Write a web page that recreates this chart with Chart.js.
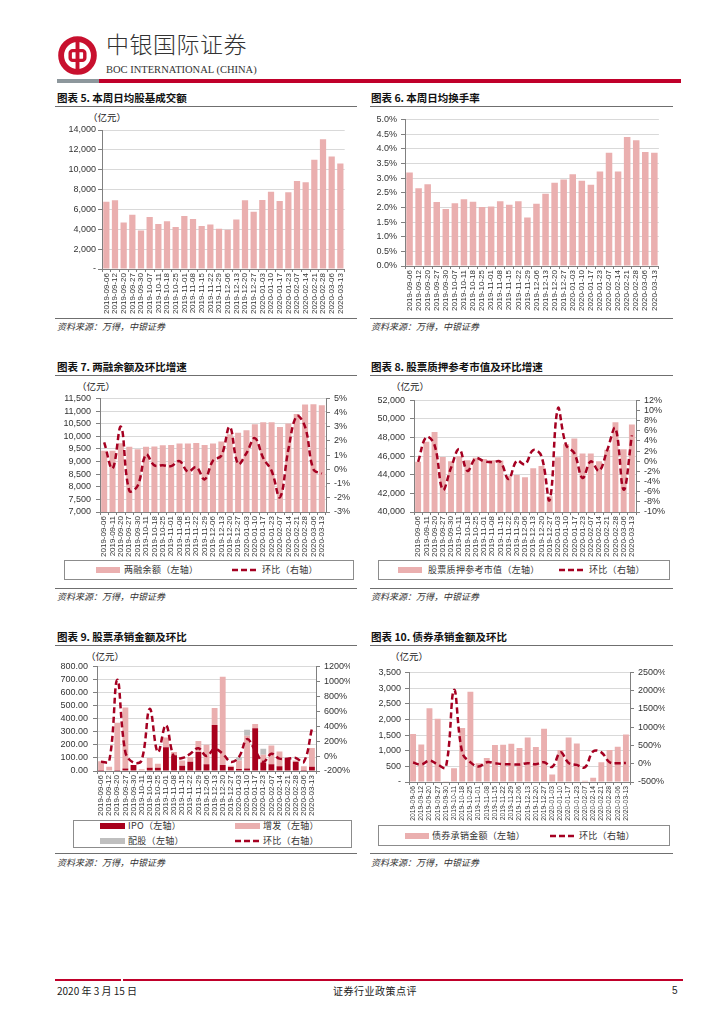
<!DOCTYPE html>
<html>
<head>
<meta charset="utf-8">
<script src="https://cdn.jsdelivr.net/npm/chart.js@4.4.1/dist/chart.umd.min.js"></script>
<style>
body { margin: 0; width: 724px; height: 1024px; background: #fff; position: relative; overflow: hidden;
       font-family: 'Noto Sans CJK SC', sans-serif; color: #111; }
.a { position: absolute; white-space: nowrap; }
.title { font-size: 10.5px; font-weight: bold; line-height: 12px; color: #111; }
.rule { position: absolute; height: 1px; background: #6f6f6f; }
.src { font-size: 9px; font-style: italic; line-height: 11px; color: #333; }
.unit { font-size: 9.5px; line-height: 11px; color: #222; }
.box { position: absolute; border: 1px solid #8c8c8c; box-sizing: border-box; }
.leg { position: absolute; font-size: 9px; line-height: 11px; color: #333; white-space: nowrap; letter-spacing: 0.3px; }
.sw { position: absolute; height: 6px; }
.cw { position: absolute; }
</style>
</head>
<body>

<!-- header -->
<svg class="a" style="left:58px;top:36px" width="39" height="39" viewBox="0 0 40 40">
  <circle cx="20" cy="20" r="16.8" fill="none" stroke="#c8102e" stroke-width="6"/>
  <rect x="12.5" y="15" width="15" height="10" rx="2.5" fill="none" stroke="#c8102e" stroke-width="3.5"/>
  <rect x="18" y="4" width="4" height="32" fill="#c8102e"/>
</svg>
<div class="a" style="left:106px;top:28px;font-size:23px;line-height:30px;font-weight:300;color:#333;letter-spacing:0.5px">中银国际证券</div>
<div class="a" style="left:106px;top:64px;font-family:'Liberation Serif',serif;font-size:10.5px;line-height:12px;color:#333">BOC INTERNATIONAL (CHINA)</div>
<div class="a" style="left:57px;top:79px;width:42px;height:4px;background:#8d979c"></div>
<div class="a" style="left:99px;top:79px;width:582px;height:4px;background:#c0002a"></div>

<!-- titles and rules -->
<div class="a title" style="left:57px;top:92px">图表 5. 本周日均股基成交额</div>
<div class="a title" style="left:371px;top:92px">图表 6. 本周日均换手率</div>
<div class="rule" style="left:55px;top:106px;width:302px"></div>
<div class="rule" style="left:370px;top:106px;width:303px"></div>
<div class="rule" style="left:55px;top:318px;width:302px"></div>
<div class="rule" style="left:370px;top:318px;width:303px"></div>
<div class="a src" style="left:57px;top:321px">资料来源：万得，中银证券</div>
<div class="a src" style="left:371px;top:321px">资料来源：万得，中银证券</div>

<div class="a title" style="left:57px;top:361px">图表 7. 两融余额及环比增速</div>
<div class="a title" style="left:371px;top:361px">图表 8. 股票质押参考市值及环比增速</div>
<div class="rule" style="left:55px;top:375px;width:302px"></div>
<div class="rule" style="left:370px;top:375px;width:303px"></div>
<div class="rule" style="left:55px;top:588px;width:302px"></div>
<div class="rule" style="left:370px;top:588px;width:303px"></div>
<div class="a src" style="left:57px;top:591px">资料来源：万得，中银证券</div>
<div class="a src" style="left:371px;top:591px">资料来源：万得，中银证券</div>

<div class="a title" style="left:57px;top:631px">图表 9. 股票承销金额及环比</div>
<div class="a title" style="left:371px;top:631px">图表 10. 债券承销金额及环比</div>
<div class="rule" style="left:55px;top:645px;width:302px"></div>
<div class="rule" style="left:370px;top:645px;width:303px"></div>
<div class="rule" style="left:55px;top:853px;width:302px"></div>
<div class="rule" style="left:370px;top:853px;width:303px"></div>
<div class="a src" style="left:57px;top:857px">资料来源：万得，中银证券</div>
<div class="a src" style="left:371px;top:857px">资料来源：万得，中银证券</div>

<!-- units -->
<div class="a unit" style="left:88px;top:112px">（亿元）</div>
<div class="a unit" style="left:77px;top:381px">（亿元）</div>
<div class="a unit" style="left:391px;top:381px">（亿元）</div>
<div class="a unit" style="left:86px;top:651px">（亿元）</div>
<div class="a unit" style="left:390px;top:651px">（亿元）</div>

<!-- chart canvases -->
<div class="cw" id="w5"><canvas id="c5"></canvas></div>
<div class="cw" id="w6"><canvas id="c6"></canvas></div>
<div class="cw" id="w7"><canvas id="c7"></canvas></div>
<div class="cw" id="w8"><canvas id="c8"></canvas></div>
<div class="cw" id="w9"><canvas id="c9"></canvas></div>
<div class="cw" id="w10"><canvas id="c10"></canvas></div>

<!-- legends -->
<div class="box" style="left:64px;top:560px;width:290px;height:20px"></div>
<div class="sw" style="left:96px;top:567px;width:24px;background:#eaafaf"></div>
<div class="leg" style="left:124px;top:564px">两融余额（左轴）</div>
<svg class="a" style="left:232px;top:567px" width="27" height="6"><line x1="0" y1="3" x2="27" y2="3" stroke="#a50021" stroke-width="2.5" stroke-dasharray="6,3"/></svg>
<div class="leg" style="left:262px;top:564px">环比（右轴）</div>

<div class="box" style="left:378px;top:560px;width:292px;height:20px"></div>
<div class="sw" style="left:398px;top:567px;width:24px;background:#eaafaf"></div>
<div class="leg" style="left:428px;top:564px">股票质押参考市值（左轴）</div>
<svg class="a" style="left:559px;top:567px" width="27" height="6"><line x1="0" y1="3" x2="27" y2="3" stroke="#a50021" stroke-width="2.5" stroke-dasharray="6,3"/></svg>
<div class="leg" style="left:589px;top:564px">环比（右轴）</div>

<div class="box" style="left:73px;top:820px;width:279px;height:28px"></div>
<div class="sw" style="left:100px;top:823px;width:25px;background:#a8001c"></div>
<div class="leg" style="left:128px;top:820px">IPO（左轴）</div>
<div class="sw" style="left:235px;top:823px;width:25px;background:#eaafaf"></div>
<div class="leg" style="left:263px;top:820px">增发（左轴）</div>
<div class="sw" style="left:100px;top:838px;width:25px;background:#bfbfbf"></div>
<div class="leg" style="left:128px;top:835px">配股（左轴）</div>
<svg class="a" style="left:235px;top:838px" width="26" height="6"><line x1="0" y1="3" x2="26" y2="3" stroke="#a50021" stroke-width="2.5" stroke-dasharray="6,3"/></svg>
<div class="leg" style="left:263px;top:835px">环比（右轴）</div>

<div class="box" style="left:378px;top:825px;width:292px;height:21px"></div>
<div class="sw" style="left:405px;top:833px;width:24px;background:#eaafaf"></div>
<div class="leg" style="left:432px;top:830px">债券承销金额（左轴）</div>
<svg class="a" style="left:550px;top:833px" width="26" height="6"><line x1="0" y1="3" x2="26" y2="3" stroke="#a50021" stroke-width="2.5" stroke-dasharray="6,3"/></svg>
<div class="leg" style="left:579px;top:830px">环比（右轴）</div>

<!-- footer -->
<div class="a" style="left:55px;top:979px;width:66px;height:1.5px;background:#c0002a"></div>
<div class="a" style="left:123px;top:979px;width:560px;height:1.5px;background:#c0002a"></div>
<div class="a" style="left:57px;top:984px;font-size:10px;line-height:13px;color:#222">2020 年 3 月 15 日</div>
<div class="a" style="left:333px;top:984px;font-size:10px;line-height:13px;color:#222;letter-spacing:0.5px">证券行业政策点评</div>
<div class="a" style="left:672px;top:984px;font-family:'Liberation Sans',sans-serif;font-size:10px;line-height:13px;color:#222">5</div>

<script>
// ---- categories ----
const dates28 = ['2019-09-06','2019-09-12','2019-09-20','2019-09-27','2019-09-30','2019-10-07','2019-10-11',
  '2019-10-18','2019-10-25','2019-11-01','2019-11-08','2019-11-15','2019-11-22','2019-11-29','2019-12-06',
  '2019-12-13','2019-12-20','2019-12-27','2020-01-03','2020-01-10','2020-01-17','2020-01-23','2020-02-07',
  '2020-02-14','2020-02-21','2020-02-28','2020-03-06','2020-03-13'];
const dates27a = ['2019-09-06','2019-09-11','2019-09-20','2019-09-27','2019-09-30','2019-10-11','2019-10-18',
  '2019-10-25','2019-11-01','2019-11-08','2019-11-15','2019-11-22','2019-11-29','2019-12-06','2019-12-13',
  '2019-12-20','2019-12-27','2020-01-03','2020-01-10','2020-01-17','2020-01-23','2020-02-07','2020-02-14',
  '2020-02-21','2020-02-28','2020-03-06','2020-03-13'];
const dates27b = ['2019-09-06','2019-09-12','2019-09-20','2019-09-27','2019-09-30','2019-10-11','2019-10-18',
  '2019-10-25','2019-11-01','2019-11-08','2019-11-15','2019-11-22','2019-11-29','2019-12-06','2019-12-13',
  '2019-12-20','2019-12-27','2020-01-03','2020-01-10','2020-01-17','2020-01-23','2020-02-07','2020-02-14',
  '2020-02-21','2020-02-28','2020-03-06','2020-03-13'];

// ---- series ----
const turnover = [6780,6920,4690,5470,3880,5230,4520,4820,4220,5330,5030,4320,4490,4050,3950,4990,6920,
  5770,6950,7790,6850,7730,8870,8740,11000,13060,11340,10630];
const turnRate = [3.19,2.65,2.79,2.18,1.94,2.14,2.28,2.19,2.01,2.03,2.21,2.09,2.21,1.65,2.12,2.46,2.84,
  2.95,3.13,2.91,2.77,3.22,3.86,3.22,4.40,4.29,3.89,3.86];
const margin = [9425,9425,9724,9581,9490,9581,9594,9646,9659,9711,9711,9737,9659,9711,9789,10080,10139,
  10243,10476,10554,10554,10372,10502,10878,11254,11267,11228];
const marginMom = [1.9,0.07,3.0,-1.5,-1.15,1.04,0.28,0.3,0.23,0.58,-0.16,0.16,-0.7,0.62,0.97,3.0,0.39,
  1.15,2.2,0.8,-0.1,-1.96,1.38,3.75,3.0,0.0,-0.3];
const pledge = [45400,47560,48600,45920,45470,46000,45570,45820,45710,45570,45540,43900,43970,43730,44700,
  44950,41700,45890,47280,47900,46300,46300,45470,46700,49650,46760,49400];
const pledgeMom = [-0.1,4.8,3.2,-5.6,-1.3,2.4,-1.9,0.6,0,-0.2,-0.1,-3.5,0.1,-0.6,2.2,1.0,-7.6,10.4,3.2,
  1.6,-3.3,0,-1.9,2.2,6.5,-5.6,5.1];
const ipo = [8,0,8,20,45,0,25,25,182,120,40,70,145,52,352,45,30,15,20,327,65,52,37,100,70,7,32];
const seo = [67,33,361,466,0,14,75,30,75,25,40,37,84,148,129,675,10,65,250,32,60,143,113,0,10,30,143];
const rights = [0,0,0,0,0,0,0,0,0,0,0,0,0,0,0,0,0,25,45,0,45,0,0,0,0,0,0];
const equityMom = [-78,-70,1020,52,-87,-57,632,52,414,-13,-26,30,105,0,96,30,-78,-13,227,74,-78,30,-35,
  -35,-26,-78,366];
const bond = [1535,1199,2355,2019,21,442,1724,2881,600,768,1178,1188,1220,1083,1420,1115,1703,242,1020,
  1420,1230,40,137,631,1020,1125,1514];
const bondMom = [32,-22,86,-22,-99,2022,311,41,-77,41,14,-13,-13,-22,14,-13,41,-86,311,23,-32,-97,338,
  311,41,14,23];

// ---- tick values / labels ----
const t5 = [0,2000,4000,6000,8000,10000,12000,14000];
const t5Labels = ['-','2,000','4,000','6,000','8,000','10,000','12,000','14,000'];
const t6 = [0,0.5,1,1.5,2,2.5,3,3.5,4,4.5,5];
const t6Labels = ['0.0%','0.5%','1.0%','1.5%','2.0%','2.5%','3.0%','3.5%','4.0%','4.5%','5.0%'];
const t7 = [7000,7500,8000,8500,9000,9500,10000,10500,11000,11500];
const t7Labels = ['7,000','7,500','8,000','8,500','9,000','9,500','10,000','10,500','11,000','11,500'];
const t7r = [-3,-2,-1,0,1,2,3,4,5];
const t7rLabels = ['-3%','-2%','-1%','0%','1%','2%','3%','4%','5%'];
const t8 = [40000,42000,44000,46000,48000,50000,52000];
const t8Labels = ['40,000','42,000','44,000','46,000','48,000','50,000','52,000'];
const t8r = [-10,-8,-6,-4,-2,0,2,4,6,8,10,12];
const t8rLabels = ['-10%','-8%','-6%','-4%','-2%','0%','2%','4%','6%','8%','10%','12%'];
const t9 = [0,100,200,300,400,500,600,700,800];
const t9Labels = ['0.00','100.00','200.00','300.00','400.00','500.00','600.00','700.00','800.00'];
const t9r = [-200,0,200,400,600,800,1000,1200];
const t9rLabels = ['-200%','0%','200%','400%','600%','800%','1000%','1200%'];
const t10 = [0,500,1000,1500,2000,2500,3000,3500];
const t10Labels = ['-','500','1,000','1,500','2,000','2,500','3,000','3,500'];
const t10r = [-500,0,500,1000,1500,2000,2500];
const t10rLabels = ['-500%','0%','500%','1000%','1500%','2000%','2500%'];

const PINK = '#eaafaf', RED = '#a50021', DARK = '#a8001c', GREY = '#bfbfbf';
const AXIS = '#808080', GRID = '#d9d9d9', TXT = '#333';
const NUM = "'Liberation Sans', Arial, sans-serif";
const PAD_TOP = 8, PAD_RIGHT = 3;

Chart.defaults.animation = false;
Chart.defaults.font.family = NUM;

function xScale(height, size) {
    return {
        stacked: true,
        grid: { drawOnChartArea: false, tickLength: 3, color: AXIS },
        border: { color: AXIS },
        ticks: { autoSkip: false, maxRotation: 90, minRotation: 90, padding: 1, color: TXT,
                 font: { family: NUM, size } },
        afterFit(s) { s.height = height; },
    };
}

function yScale(values, labels, width, position, gridOn, padding) {
    return {
        position,
        min: values[0],
        max: values[values.length - 1],
        stacked: position === 'left',
        afterBuildTicks(s) { s.ticks = values.map(v => ({ value: v })); },
        afterFit(s) { s.width = width; },
        grid: gridOn ? { color: GRID, tickColor: AXIS, tickLength: 4 }
                     : { drawOnChartArea: false, color: AXIS, tickLength: 4 },
        border: { color: AXIS },
        ticks: { autoSkip: false, callback: (v, i) => labels[i], padding, color: TXT,
                 font: { family: NUM, size: 9 } },
    };
}

function lineSet(data) {
    return { type: 'line', data, yAxisID: 'y1', borderColor: RED, borderWidth: 2.5, borderDash: [6, 3.5],
             pointRadius: 0, tension: 0.4, fill: false, order: 0 };
}

// plot = chart area in page pixels
function draw(id, plot, wl, wr, hx, data, scales) {
    const w = document.getElementById('w' + id);
    w.style.left = (plot.l - wl) + 'px';
    w.style.top = (plot.t - PAD_TOP) + 'px';
    w.style.width = (plot.r - plot.l + wl + wr + PAD_RIGHT) + 'px';
    w.style.height = (plot.b - plot.t + PAD_TOP + hx) + 'px';
    new Chart(document.getElementById('c' + id), {
        type: 'bar',
        data,
        options: {
            responsive: true,
            maintainAspectRatio: false,
            layout: { padding: { top: PAD_TOP, right: PAD_RIGHT, left: 0, bottom: 0 } },
            plugins: { legend: { display: false }, tooltip: { enabled: false } },
            scales,
        },
    });
}

const barOpts = { backgroundColor: PINK, barPercentage: 0.72, categoryPercentage: 1, order: 1 };

draw(5, { l: 102, r: 348, t: 130, b: 269 }, 52, 0, 47,
    { labels: dates28, datasets: [{ ...barOpts, data: turnover }] },
    { x: xScale(47, 8), y: yScale(t5, t5Labels, 52, 'left', true, 2) });

draw(6, { l: 405, r: 662, t: 118, b: 266 }, 35, 0, 47,
    { labels: dates28, datasets: [{ ...barOpts, data: turnRate }] },
    { x: xScale(47, 8), y: yScale(t6, t6Labels, 35, 'left', true, 4) });

draw(7, { l: 100, r: 326, t: 396, b: 512 }, 45, 24, 47,
    { labels: dates27a, datasets: [lineSet(marginMom), { ...barOpts, data: margin }] },
    { x: xScale(47, 8), y: yScale(t7, t7Labels, 45, 'left', true, 5),
      y1: yScale(t7r, t7rLabels, 24, 'right', false, 4) });

draw(8, { l: 414, r: 636, t: 398, b: 512 }, 39, 29, 47,
    { labels: dates27a, datasets: [lineSet(pledgeMom), { ...barOpts, data: pledge }] },
    { x: xScale(47, 8), y: yScale(t8, t8Labels, 39, 'left', true, 5),
      y1: yScale(t8r, t8rLabels, 29, 'right', false, 4) });

draw(9, { l: 97, r: 316, t: 664, b: 771 }, 39, 34, 48,
    { labels: dates27b, datasets: [
        lineSet(equityMom),
        { ...barOpts, backgroundColor: DARK, data: ipo, order: 1 },
        { ...barOpts, backgroundColor: PINK, data: seo, order: 2 },
        { ...barOpts, backgroundColor: GREY, data: rights, order: 3 },
    ] },
    { x: xScale(48, 8), y: yScale(t9, t9Labels, 39, 'left', true, 5),
      y1: yScale(t9r, t9rLabels, 34, 'right', false, 4) });

draw(10, { l: 409, r: 630, t: 671, b: 782 }, 34, 35, 40,
    { labels: dates27b, datasets: [lineSet(bondMom), { ...barOpts, data: bond }] },
    { x: xScale(40, 6.8), y: yScale(t10, t10Labels, 34, 'left', true, 4),
      y1: yScale(t10r, t10rLabels, 35, 'right', false, 4) });
</script>
</body>
</html>
